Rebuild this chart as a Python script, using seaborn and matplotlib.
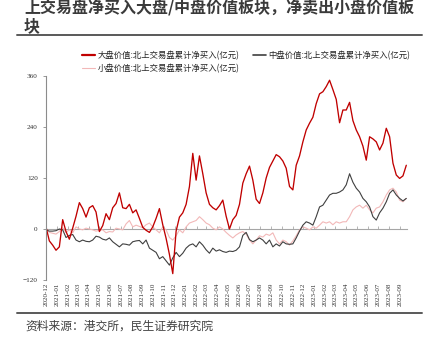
import numpy as np
import pandas as pd
import matplotlib
matplotlib.use("Agg")
import matplotlib.pyplot as plt
import matplotlib.dates as mdates
from matplotlib.lines import Line2D
import seaborn as sns

# ---------------- data ----------------
start_date = "2020-12-01"
end_date = "2023-09-19"
n_points = 109

large_value = [5, -28, -38, -50, -42, 22, -6, -24, 2, 30,
               62, 48, 28, 50, 55, 40, -6, 8, 36, 22,
               50, 60, 85, 50, 48, 58, 38, 45, 25, 4,
               -3, -8, 5, 25, 48, 10, -22, -60, -105, -5,
               28, 38, 58, 100, 178, 115, 172, 130, 85, 58,
               50, 45, 55, 68, 30, 0, 22, 32, 58, 108,
               130, 148, 115, 70, 60, 85, 120, 145, 160, 175,
               170, 160, 143, 100, 92, 150, 172, 205, 233, 249,
               263, 295, 318, 323, 335, 350, 328, 305, 250, 280,
               280, 298, 255, 233, 217, 195, 162, 217, 212, 205,
               186, 202, 237, 217, 155, 127, 119, 125, 150]

mid_value = [-2, -5, -5, -4, 0, -2, -20, -15, -13, -26,
             -30, -26, -29, -30, -26, -17, -19, -24, -26, -21,
             -30, -36, -42, -35, -36, -38, -30, -28, -27, -35,
             -26, -45, -50, -55, -70, -65, -75, -85, -68, -55,
             -65, -57, -45, -38, -35, -42, -30, -38, -49, -57,
             -45, -52, -49, -53, -55, -52, -53, -50, -42, -15,
             -8, -25, -30, -26, -21, -26, -35, -26, -42, -35,
             -40, -30, -35, -36, -35, -21, -5, 9, 17, 14,
             9, 29, 52, 56, 68, 80, 84, 84, 87, 92,
             104, 130, 110, 96, 87, 72, 64, 52, 29, 21,
             38, 49, 64, 84, 92, 80, 72, 66, 72]

small_value = [0, -8, -10, -12, -6, 3, -8, -2, -9, 5,
               0, -2, 2, 0, -2, -5, -3, -2, -9, -6,
               -7, 2, 0, -2, 12, 20, 5, 9, 6, 3,
               10, 14, 5, -2, -9, 5, -2, -20, -26, -16,
               -2, -9, 5, 14, 17, 20, 29, 22, 14, 10,
               2, -2, 5, 0, -8, -15, -21, -14, -9, -6,
               -12, -26, -35, -26, -16, -19, -12, -15, -9, -26,
               -35, -26, -30, -38, -28, -16, -2, 5, 2, -2,
               5, 2, 9, 17, 14, 17, 10, 17, 14, 17,
               17, 29, 45, 52, 56, 49, 56, 45, 38, 49,
               52, 64, 80, 92, 96, 87, 68, 64, 72]

series_names = ["大盘价值:北上交易盘累计净买入(亿元)",
                "中盘价值:北上交易盘累计净买入(亿元)",
                "小盘价值:北上交易盘累计净买入(亿元)"]
y_ticks = [-120, 0, 120, 240, 360]
title_text = "上交易盘净买入大盘/中盘价值板块，净卖出小盘价值板\n块"
source_text = "资料来源：港交所，民生证券研究院"

dates = pd.date_range(start_date, end_date, periods=n_points)
df = pd.DataFrame({"date": dates, "large": large_value,
                   "mid": mid_value, "small": small_value})

# ---------------- style ----------------
sns.set_style("white")
plt.rcParams["font.family"] = ["Noto Sans CJK SC", "DejaVu Sans"]

red = "#C00000"
dark = "#3F3F3F"
pink = "#F2B8B8"

fig = plt.figure(figsize=(4.33, 3.46), dpi=100)
ax = fig.add_axes([46 / 433, 1 - 280 / 346, (407 - 46) / 433, (280 - 76) / 346])

sns.lineplot(data=df, x="date", y="small", ax=ax, color=pink, lw=0.8)
sns.lineplot(data=df, x="date", y="mid", ax=ax, color=dark, lw=0.8)
sns.lineplot(data=df, x="date", y="large", ax=ax, color=red, lw=0.95)

ax.set_xlim(pd.Timestamp("2020-12-01"), pd.Timestamp("2023-09-21"))
ax.set_ylim(-120, 360)
ax.set_yticks(y_ticks)
ax.set_xlabel("")
ax.set_ylabel("")

# x tick labels at the bottom
ax.xaxis.set_major_locator(mdates.MonthLocator())
ax.xaxis.set_major_formatter(mdates.DateFormatter("%Y-%m"))
for lab in ax.get_xticklabels():
    lab.set_rotation(90)
    lab.set_fontfamily("Liberation Serif")
    lab.set_fontsize(5)
    lab.set_color("#333333")
for lab in ax.get_yticklabels():
    lab.set_fontfamily("Liberation Serif")
    lab.set_fontsize(5.2)
    lab.set_color("#333333")
ax.tick_params(axis="x", length=0, pad=2)
ax.tick_params(axis="y", length=2, width=0.6, color="#888888", pad=4, left=True)

for s in ["top", "right", "bottom"]:
    ax.spines[s].set_visible(False)
ax.spines["left"].set_color("#8c8c8c")
ax.spines["left"].set_linewidth(0.8)

# zero axis line with small ticks
sec = ax.secondary_xaxis(location=0.25)
sec.xaxis.set_major_locator(mdates.MonthLocator())
sec.tick_params(axis="x", direction="in", length=2, width=0.5, color="#999999",
                labelbottom=False, labeltop=False, bottom=True, top=False)
sec.set_xticklabels([])
sec.spines["bottom"].set_color("#a6a6a6")
sec.spines["bottom"].set_linewidth(0.8)
for s in ["top", "left", "right"]:
    sec.spines[s].set_visible(False)

# legend
handles = [Line2D([], [], color=red, lw=1.6),
           Line2D([], [], color=pink, lw=0.8),
           Line2D([], [], color=dark, lw=1.2)]
labels = [series_names[0], series_names[2], series_names[1]]
fig.legend(handles, labels, loc="upper left", bbox_to_anchor=(76 / 433, 1 - 45 / 346),
           ncol=2, frameon=False, fontsize=6, handlelength=1.55, handletextpad=0.3,
           columnspacing=1.7, labelspacing=0.45, borderpad=0.2, labelcolor="#222222")

# title and rules
fig.text(24 / 433, 1 - 31 / 346, title_text, fontsize=11.5, fontweight="bold",
         color="#3a3a3a", ha="left", va="baseline", linespacing=1.22)
fig.add_artist(Line2D([17 / 433, 422 / 433], [1 - 34.5 / 346, 1 - 34.5 / 346],
                      transform=fig.transFigure, color="#595959", lw=1.4))
fig.add_artist(Line2D([17 / 433, 422 / 433], [1 - 313 / 346, 1 - 313 / 346],
                      transform=fig.transFigure, color="#595959", lw=1.4))
fig.text(25 / 433, 1 - 326 / 346, source_text, fontsize=8.5, color="#404040",
         ha="left", va="center")

fig.savefig("out.png", dpi=100)
